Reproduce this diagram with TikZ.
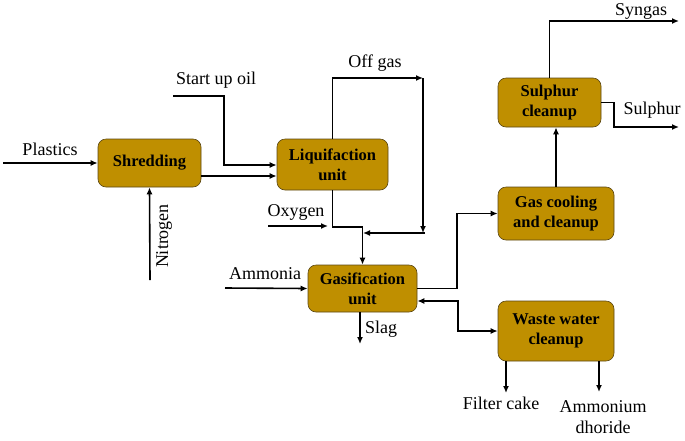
\documentclass[tikz,border=0pt]{standalone}
\usepackage{fontspec}
\setmainfont{Liberation Serif}
\usetikzlibrary{arrows.meta}
\definecolor{boxfill}{RGB}{191,143,0}
\definecolor{boxline}{RGB}{90,70,20}
\begin{document}
\begin{tikzpicture}[x=1pt,y=-1pt,
  unitbox/.style={draw=boxline,line width=0.6pt,fill=boxfill,rounded corners=8pt,align=center,inner sep=0pt,
    font=\fontsize{16.5}{20}\selectfont\bfseries},
  lbl/.style={inner sep=0pt,font=\fontsize{18}{21}\selectfont},
  arr/.style={line width=1.6pt,-{Latex[length=7pt,width=6pt]}},
  ln/.style={line width=1.6pt},
  darr/.style={line width=1.6pt,{Latex[length=7pt,width=6pt]}-{Latex[length=7pt,width=6pt]}}]
\useasboundingbox (0,0) rectangle (685,440);
% boxes
\node[unitbox,minimum width=103pt,minimum height=48pt] (shred) at (149.5,163) {Shredding};
\node[unitbox,minimum width=111pt,minimum height=51pt] (liq) at (332.5,164.5) {Liquifaction\\unit};
\node[unitbox,minimum width=109pt,minimum height=47pt] (gas) at (362.5,288.5) {Gasification\\unit};
\node[unitbox,minimum width=116pt,minimum height=53pt] (cool) at (556,213.5) {Gas cooling\\and cleanup};
\node[unitbox,minimum width=103pt,minimum height=49pt] (sulph) at (549.5,102.5) {Sulphur\\cleanup};
\node[unitbox,minimum width=116pt,minimum height=60pt] (waste) at (556,331) {Waste water\\cleanup};
% free ends
\coordinate (pl) at (3,163);
\coordinate (n2) at (150,280);
\coordinate (so) at (173,96);
\coordinate (y176) at (0,176);
\coordinate (y165) at (0,165);
\coordinate (og1) at (423,78);
\coordinate (og2) at (423,233);
\coordinate (mix) at (363,233);
\coordinate (ox) at (268,226);
\coordinate (oxe) at (328,226);
\coordinate (am) at (225,288);
\coordinate (slag) at (360,344);
\coordinate (syn) at (679,21);
\coordinate (sul) at (679,127);
\coordinate (fc) at (506,393);
\coordinate (amc) at (599,392);
% connectors
\draw[arr] (pl) -- (shred.west);
\draw[arr] (n2) -- (shred.south);
\draw[arr] (shred.east |- y176) -- (liq.west |- y176);
\draw[arr] (so) -- (224,96) -- (224,165) -- (liq.west |- y165);
\draw[arr] (liq.north) |- (og1);
\draw[arr] (og1) -- (og2);
\draw[arr] (425,233) -- (mix);
\draw[arr] (liq.south) -- (332.5,227) -- (362.5,227) -- (gas.north);
\draw[arr] (ox) -- (oxe);
\draw[arr] (am) -- (gas.west);
\draw[arr] (gas.south -| slag) -- (slag);
\draw[arr] (gas.east) -- (457,288.5) |- (cool.west);
\draw[darr] (gas.east |- 0,301) -- (458,301) |- (waste.west);
\draw[arr] (cool.north) -- (cool.north |- sulph.south);
\draw[arr] (sulph.north) |- (syn);
\draw[arr] (sulph.east) -- (614,102.5) |- (sul);
\draw[arr] (waste.south -| fc) -- (fc);
\draw[arr] (waste.south -| amc) -- (amc);
% labels
\node[lbl] (tpl) at (50,149) {Plastics};
\node[lbl,rotate=90] (tn2) at (164,236) {Nitrogen};
\node[lbl] (tso) at (216,80) {Start up oil};
\node[lbl] (tog) at (375,63) {Off gas};
\node[lbl] (tox) at (296,212) {Oxygen};
\node[lbl] (tam) at (265,274) {Ammonia};
\node[lbl] (tsl) at (381,329) {Slag};
\node[lbl] (tsy) at (641,11) {Syngas};
\node[lbl] (tsu) at (652,110) {Sulphur};
\node[lbl] (tfc) at (501,403) {Filter cake};
\node[lbl,align=center] (tac) at (603,417) {Ammonium\\dhoride};
\end{tikzpicture}
\end{document}
